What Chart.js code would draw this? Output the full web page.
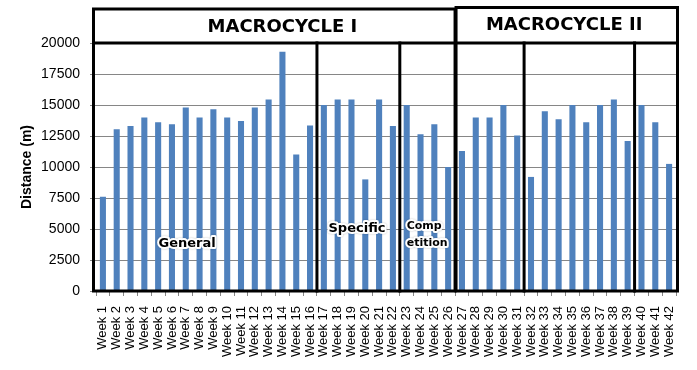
<!DOCTYPE html>
<html><head><meta charset="utf-8">
<script src="https://cdn.jsdelivr.net/npm/chart.js@4"></script>
<style>html,body{margin:0;padding:0;background:#fff}#wrap{width:697px;height:370px}</style>
</head><body><div id="wrap"><canvas id="c" width="697" height="370"></canvas></div>
<script>
const weeks = ["Week 1","Week 2","Week 3","Week 4","Week 5","Week 6","Week 7","Week 8","Week 9","Week 10",
  "Week 11","Week 12","Week 13","Week 14","Week 15","Week 16","Week 17","Week 18","Week 19","Week 20",
  "Week 21","Week 22","Week 23","Week 24","Week 25","Week 26","Week 27","Week 28","Week 29","Week 30",
  "Week 31","Week 32","Week 33","Week 34","Week 35","Week 36","Week 37","Week 38","Week 39","Week 40",
  "Week 41","Week 42"];
const distance = [7600,13050,13300,14000,13600,13450,14800,14000,14650,14000,13700,14800,15450,19300,11000,13350,
  15000,15450,15450,9000,15450,13300,
  15000,12650,13450,10000,
  11300,14000,14000,15000,12550,
  9200,14500,13850,15000,13600,15000,15450,12100,
  15000,13600,10250];
const yTicks = [0,2500,5000,7500,10000,12500,15000,17500,20000];
const macrocycles = ["MACROCYCLE I","MACROCYCLE II"];
const macroSplitAfter = 26;            // Macrocycle I = weeks 1-26
const phaseBreaksAfter = [16,22,31,39]; // phase boundaries (after week N)
const phaseNames = [["General"],["Specific"],["Comp","etition"]];

const boxPlugin = {
  id:'boxes',
  afterDatasetsDraw(chart){
    const {ctx, scales:{x,y}} = chart;
    const edge = i => x.getPixelForValue(i - 0.5);
    const L = edge(0) - 2.5, R = edge(weeks.length) + 1.5;
    const S = edge(macroSplitAfter);
    const B = y.getPixelForValue(0), T = y.getPixelForValue(20000);
    ctx.save();
    ctx.strokeStyle = '#000'; ctx.lineWidth = 3; ctx.lineCap='square';
    ctx.strokeRect(L, 9, S - L, B - 9);
    ctx.strokeRect(S + 1, 7.5, R - S - 1, B - 7.5);
    ctx.beginPath(); ctx.moveTo(L, T); ctx.lineTo(R, T); ctx.stroke();
    phaseBreaksAfter.forEach(b => {
      const px = edge(b);
      ctx.beginPath(); ctx.moveTo(px, T); ctx.lineTo(px, B); ctx.stroke();
    });
    ctx.fillStyle = '#000';
    ctx.font = 'bold 18px "DejaVu Sans"';
    ctx.textAlign = 'center'; ctx.textBaseline = 'middle';
    ctx.fillText(macrocycles[0], x.getPixelForValue(13), 27);
    ctx.fillText(macrocycles[1], x.getPixelForValue(33.4), 25);
    const halo = (t, px, py, align) => {
      ctx.textAlign = align;
      ctx.lineJoin = 'round'; ctx.strokeStyle = '#fff'; ctx.lineWidth = 4;
      ctx.shadowColor = 'rgba(0,0,0,0.25)'; ctx.shadowBlur = 2;
      ctx.strokeText(t, px, py);
      ctx.shadowColor = 'transparent'; ctx.shadowBlur = 0;
      ctx.fillStyle = '#000'; ctx.fillText(t, px, py);
    };
    ctx.font = 'bold 13px "DejaVu Sans"';
    halo(phaseNames[0][0], x.getPixelForValue(6.1), y.getPixelForValue(3800), 'center');
    halo(phaseNames[1][0], x.getPixelForValue(18.4), y.getPixelForValue(5000), 'center');
    ctx.font = 'bold 11px "DejaVu Sans"';
    halo(phaseNames[2][0], x.getPixelForValue(22), y.getPixelForValue(5200), 'left');
    halo(phaseNames[2][1], x.getPixelForValue(22), y.getPixelForValue(3850), 'left');
    ctx.restore();
  }
};

new Chart(document.getElementById('c'), {
  type:'bar',
  data:{ labels: weeks, datasets:[{ data: distance, backgroundColor:'#4F81BD', borderWidth:0,
    barPercentage:0.44, categoryPercentage:1 }]},
  options:{
    responsive:false, animation:false,
    layout:{padding:{top:43,right:21,left:0,bottom:0}},
    plugins:{legend:{display:false}, tooltip:{enabled:false}},
    scales:{
      x:{
        grid:{drawOnChartArea:false, drawTicks:true, tickLength:5, color:'#868686', offset:true},
        border:{display:false},
        ticks:{maxRotation:90, minRotation:90, autoSkip:false, padding:10, color:'#000',
          font:{family:'"Liberation Sans"', size:13}},
        afterFit(s){ s.height = 79; }
      },
      y:{
        min:0, max:20000,
        afterBuildTicks(s){ s.ticks = yTicks.map(v => ({value:v})); },
        grid:{color:'#868686', tickLength:6},
        border:{display:false},
        ticks:{padding:10, color:'#000', font:{family:'"Liberation Sans"', size:14},
          callback:(v)=>String(v)},
        title:{display:true, text:'Distance (m)', color:'#000', padding:{top:19,bottom:0},
          font:{family:'"Liberation Sans"', size:14, weight:'bold'}},
        afterFit(s){ s.width = 96; }
      }
    }
  },
  plugins:[boxPlugin]
});
</script></body></html>
